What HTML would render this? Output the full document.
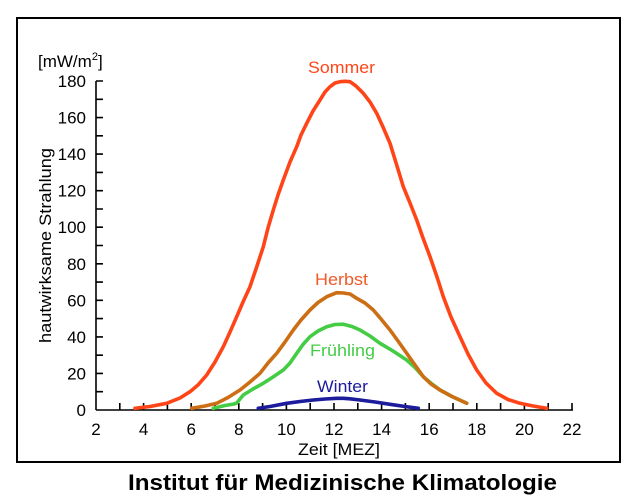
<!DOCTYPE html>
<html><head><meta charset="utf-8"><style>
html,body{margin:0;padding:0;background:#fff;}
svg{display:block;}
text{font-family:"Liberation Sans",Arial,sans-serif;}
</style></head><body>
<svg width="640" height="502" viewBox="0 0 640 502" xmlns="http://www.w3.org/2000/svg">
<rect x="0" y="0" width="640" height="502" fill="#fff"/>
<rect x="17" y="18" width="603" height="444" fill="none" stroke="#000" stroke-width="2"/>
<!-- axes -->
<g stroke="#000" stroke-width="1.6" fill="none">
<line x1="96" y1="81" x2="96" y2="410"/>
<line x1="96" y1="410" x2="573" y2="410"/>
<!-- y ticks every 10 -->
<path d="M96 81H103M96 99.3H103M96 117.6H103M96 135.8H103M96 154.1H103M96 172.4H103M96 190.7H103M96 209H103M96 227.2H103M96 245.5H103M96 263.8H103M96 282.1H103M96 300.3H103M96 318.6H103M96 336.9H103M96 355.2H103M96 373.4H103M96 391.7H103"/>
<!-- x ticks every hour -->
<path d="M119.8 410V403M143.6 410V403M167.4 410V403M191.2 410V403M215 410V403M238.8 410V403M262.6 410V403M286.4 410V403M310.2 410V403M334 410V403M357.8 410V403M381.6 410V403M405.4 410V403M429.2 410V403M453 410V403M476.8 410V403M500.6 410V403M524.4 410V403M548.2 410V403M572 410V403"/>
</g>
<!-- y tick labels -->
<g font-size="17" fill="#000" text-anchor="end">
<text x="86" y="87">180</text>
<text x="86" y="123.6">160</text>
<text x="86" y="160.1">140</text>
<text x="86" y="196.7">120</text>
<text x="86" y="233.2">100</text>
<text x="86" y="269.8">80</text>
<text x="86" y="306.3">60</text>
<text x="86" y="342.9">40</text>
<text x="86" y="379.4">20</text>
<text x="86" y="416">0</text>
</g>
<!-- x tick labels -->
<g font-size="17" fill="#000" text-anchor="middle">
<text x="96" y="435">2</text>
<text x="143.6" y="435">4</text>
<text x="191.2" y="435">6</text>
<text x="238.8" y="435">8</text>
<text x="286.4" y="435">10</text>
<text x="334" y="435">12</text>
<text x="381.6" y="435">14</text>
<text x="429.2" y="435">16</text>
<text x="476.8" y="435">18</text>
<text x="524.4" y="435">20</text>
<text x="572" y="435">22</text>
</g>
<text x="298" y="455" font-size="17" textLength="82" lengthAdjust="spacingAndGlyphs">Zeit [MEZ]</text>
<text x="38" y="67" font-size="17">[mW/m<tspan font-size="11" dy="-7">2</tspan><tspan dy="7">]</tspan></text>
<text transform="translate(51,343) rotate(-90)" font-size="17" textLength="195" lengthAdjust="spacingAndGlyphs">hautwirksame Strahlung</text>
<!-- series -->
<g fill="none" stroke-width="3.6" stroke-linejoin="round" stroke-linecap="round">
<polyline stroke="#1c1c9c" points="258.3,408.3 270,406.5 286.7,403.3 300,401.5 313.3,400 325,399 336.7,398.3 343.3,398.3 350,398.8 360,400 375,402 390,404.3 405,406.5 418.3,408.3"/>
<polyline stroke="#45cc45" points="213.3,408.3 225,405.5 234,404 236.7,403 240,399 243.3,395 253,389 263.3,383.3 273,377 283.3,370 290,363 296.7,353.3 303,344.5 310,336.7 318,331 326.7,326.7 335,324.5 343.3,324.2 352,326.5 360,330 370,336 380,343.3 393,351 406.7,360 415,367.5 423.3,376.7 432,384 440,390 452,396.5 466.7,403.3"/>
<polyline stroke="#cc6e14" points="191.7,408.3 205,406 216.7,403.3 228,397.5 240,390 250,382 260,373.3 268,363 276.7,353.3 285,342 293.3,330 301,320 310,310 318,302.5 326.7,296.7 336.7,292.7 343.3,293 350,294 356.7,298.3 365,303 373.3,310 381,319 390,330 398,341 406.7,353.3 415,365 423.3,376.7 431,384 440,390 452,396.5 466.7,403.3"/>
<polyline stroke="#ff4518" points="135,408.3 150,406.5 166.7,403.3 180,398 190,391.7 198,385 206.7,375 215,362 223.3,346.7 230,332 236.7,316.7 243,302 250,286.7 257,266 263.3,246.7 268,228 273.3,210 278,195 283.3,180 290,162 296.7,146.7 301,135 306.7,123.3 313,111 320,100 325,92 330,86.7 335,83 340,81.7 345,81.3 350,81.7 356,86 363.3,93.3 370,102 376.7,113.3 383,127 390,143.3 397,166 403.3,186.7 410,203 416.7,220 423,238 430,256.7 437,277 443.3,296.7 451,317 460,336.7 468,354 476.7,370 486,383 496.7,393.3 508,399.5 520,403.3 533,406 546.7,408.3"/>
</g>
<!-- series labels -->
<text x="308" y="73" font-size="17" fill="#ff4518" textLength="67" lengthAdjust="spacingAndGlyphs">Sommer</text>
<text x="315" y="285" font-size="17" fill="#f05a28" textLength="53" lengthAdjust="spacingAndGlyphs">Herbst</text>
<text x="310" y="356" font-size="17" fill="#45cc45" textLength="65" lengthAdjust="spacingAndGlyphs">Frühling</text>
<text x="317" y="392" font-size="17" fill="#1c1c9c" textLength="51" lengthAdjust="spacingAndGlyphs">Winter</text>
<!-- title -->
<text x="128" y="490" font-size="22" font-weight="bold" fill="#000" textLength="429" lengthAdjust="spacingAndGlyphs">Institut für Medizinische Klimatologie</text>
</svg>
</body></html>
